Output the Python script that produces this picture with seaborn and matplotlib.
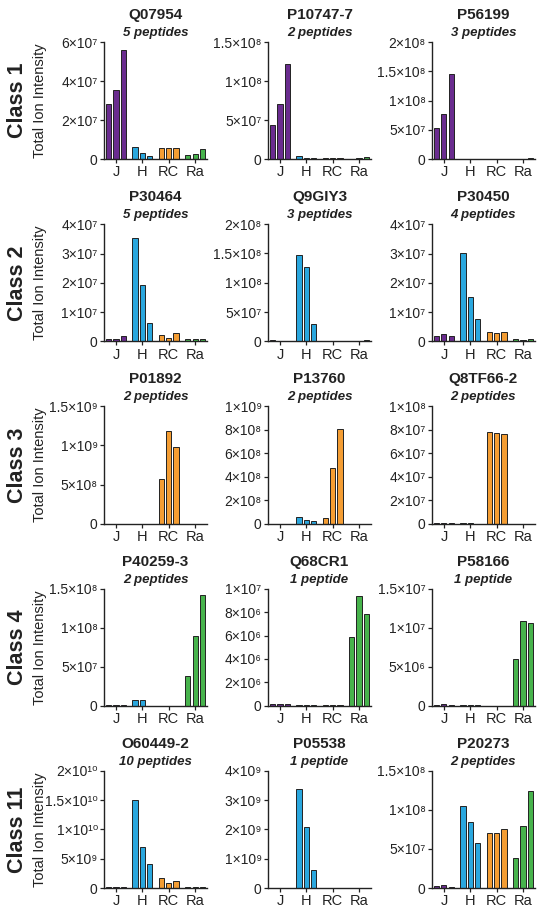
import matplotlib
matplotlib.use('Agg')
import matplotlib.pyplot as plt
import numpy as np
import pandas as pd
import seaborn as sns

# Sample groups and their colours
GROUPS = ['J', 'H', 'RC', 'Ra']
GROUP_COLORS = {'J': '#6a2c8f', 'H': '#2aa7de', 'RC': '#f49d33', 'Ra': '#47b34c'}

CLASSES = ['Class 1', 'Class 2', 'Class 3', 'Class 4', 'Class 11']

PROTEINS = ['Q07954', 'P10747-7', 'P56199',
            'P30464', 'Q9GIY3', 'P30450',
            'P01892', 'P13760', 'Q8TF66-2',
            'P40259-3', 'Q68CR1', 'P58166',
            'O60449-2', 'P05538', 'P20273']

PEPTIDES = ['5 peptides', '2 peptides', '3 peptides',
            '5 peptides', '3 peptides', '4 peptides',
            '2 peptides', '2 peptides', '2 peptides',
            '2 peptides', '1 peptide', '1 peptide',
            '10 peptides', '1 peptide', '2 peptides']

Y_TICKS = [[0, 2e7, 4e7, 6e7], [0, 5e7, 1e8, 1.5e8], [0, 5e7, 1e8, 1.5e8, 2e8],
           [0, 1e7, 2e7, 3e7, 4e7], [0, 5e7, 1e8, 1.5e8, 2e8], [0, 1e7, 2e7, 3e7, 4e7],
           [0, 5e8, 1e9, 1.5e9], [0, 2e8, 4e8, 6e8, 8e8, 1e9], [0, 2e7, 4e7, 6e7, 8e7, 1e8],
           [0, 5e7, 1e8, 1.5e8], [0, 2e6, 4e6, 6e6, 8e6, 1e7], [0, 5e6, 1e7, 1.5e7],
           [0, 5e9, 1e10, 1.5e10, 2e10], [0, 1e9, 2e9, 3e9, 4e9], [0, 5e7, 1e8, 1.5e8]]

# Total ion intensity, three replicates per group (J, H, RC, Ra)
Q07954 = [2.83e7, 3.52e7, 5.6e7, 6.3e6, 3.1e6, 1.7e6, 5.5e6, 5.8e6, 5.5e6, 2.0e6, 2.4e6, 5.1e6]
P10747_7 = [4.4e7, 7.0e7, 1.22e8, 3.5e6, 1e6, 1e6, 1e6, 1e6, 1.5e6, 0.5e6, 1e6, 3e6]
P56199 = [5.3e7, 7.7e7, 1.46e8, 0.5e6, 0.5e6, 0.5e6, 0.5e6, 0.5e6, 0.5e6, 0.5e6, 1e6, 2e6]
P30464 = [8e5, 7e5, 1.7e6, 3.52e7, 1.92e7, 6.3e6, 2.2e6, 1.3e6, 3.0e6, 9e5, 7e5, 7e5]
Q9GIY3 = [2e6, 1e6, 0.5e6, 1.47e8, 1.27e8, 3.0e7, 1e6, 0.5e6, 0.5e6, 0.5e6, 1e6, 3e6]
P30450 = [1.7e6, 2.5e6, 1.8e6, 3.03e7, 1.52e7, 7.7e6, 3.2e6, 2.7e6, 3.1e6, 7e5, 5e5, 7e5]
P01892 = [0, 0, 0, 0, 0, 0, 5.7e8, 1.19e9, 9.8e8, 0, 0, 0]
P13760 = [0, 0, 0, 5.2e7, 3.2e7, 2.6e7, 4.9e7, 4.75e8, 8.1e8, 0, 0, 0]
Q8TF66_2 = [9e5, 6e5, 8e5, 3e5, 2e5, 0, 7.78e7, 7.7e7, 7.64e7, 0, 0, 0]
P40259_3 = [1e6, 1.5e6, 1.5e6, 7.6e6, 7.6e6, 3e5, 0, 0, 0, 3.85e7, 9.0e7, 1.42e8]
Q68CR1 = [1.7e5, 1.7e5, 1.7e5, 5e4, 5e4, 5e4, 3e4, 3e4, 3e4, 5.85e6, 9.35e6, 7.8e6]
P58166 = [1.5e5, 2e5, 1.5e5, 5e4, 1.5e5, 5e4, 0, 0, 0, 6.0e6, 1.08e7, 1.06e7]
O60449_2 = [1e8, 1e8, 1e8, 1.5e10, 7.0e9, 4.1e9, 1.7e9, 8.5e8, 1.2e9, 2e8, 1e8, 2e8]
P05538 = [0, 0, 0, 3.39e9, 2.07e9, 6.1e8, 0, 0, 0, 0, 0, 0]
P20273 = [2.5e6, 3.8e6, 1e6, 1.05e8, 8.4e7, 5.8e7, 7.0e7, 7.1e7, 7.5e7, 3.8e7, 7.9e7, 1.24e8]

VALUES = [Q07954, P10747_7, P56199, P30464, Q9GIY3, P30450,
          P01892, P13760, Q8TF66_2, P40259_3, Q68CR1, P58166,
          O60449_2, P05538, P20273]

GROUP_STEP = 3.6
SUP = str.maketrans('0123456789', '⁰¹²³⁴⁵⁶⁷⁸⁹')


def sci_label(v):
    """Format a tick value as e.g. 1.5×10⁸."""
    if v == 0:
        return '0'
    exp = int(np.floor(np.log10(v) + 1e-9))
    mant = round(v / 10 ** exp, 2)
    return f'{mant:g}×10' + str(exp).translate(SUP)


def panel_frame(values):
    rows = []
    for g, grp in enumerate(GROUPS):
        for r in range(3):
            rows.append({'pos': g * GROUP_STEP + (r - 1), 'value': values[g * 3 + r], 'group': grp})
    return pd.DataFrame(rows)


sns.set_style('ticks')
plt.rcParams['font.family'] = ['Liberation Sans', 'DejaVu Sans']

fig, axes = plt.subplots(5, 3, figsize=(5.46, 9.14), dpi=100)
fig.subplots_adjust(left=104 / 546, right=535 / 546, top=1 - 42 / 914,
                    bottom=1 - 888 / 914, wspace=0.59, hspace=0.556)

ink = '#222222'
for i, ax in enumerate(axes.flat):
    df = panel_frame(VALUES[i])
    sns.barplot(data=df, x='pos', y='value', hue='group', palette=GROUP_COLORS,
                native_scale=True, width=0.7, dodge=False, errorbar=None, saturation=1,
                edgecolor=ink, linewidth=0.7, legend=False, ax=ax)
    ticks = Y_TICKS[i]
    ax.set_ylim(0, ticks[-1])
    ax.set_yticks(ticks)
    ax.set_yticklabels([sci_label(t) for t in ticks])
    ax.set_xlim(-1.64, 3 * GROUP_STEP + 1.64)
    ax.set_xticks([g * GROUP_STEP for g in range(4)])
    ax.set_xticklabels(GROUPS)
    ax.set_xlabel('')
    ax.set_ylabel('')
    sns.despine(ax=ax)
    for side in ['left', 'bottom']:
        ax.spines[side].set_linewidth(1.0)
        ax.spines[side].set_color(ink)
    ax.tick_params(axis='y', length=3, width=0.9, pad=1.5, labelsize=10, colors=ink)
    ax.tick_params(axis='x', length=3, width=0.9, pad=1.5, labelsize=10.5, colors=ink)
    ax.annotate(PROTEINS[i], xy=(0.5, 1), xycoords='axes fraction', xytext=(0, 19.5),
                textcoords='offset points', ha='center', va='center',
                fontsize=11, fontweight='bold', color=ink)
    ax.annotate(PEPTIDES[i], xy=(0.5, 1), xycoords='axes fraction', xytext=(0, 6.5),
                textcoords='offset points', ha='center', va='center',
                fontsize=9.5, fontweight='bold', fontstyle='italic', color=ink)

# Row labels on the left
for r, ax in enumerate(axes[:, 0]):
    box = ax.get_position()
    yc = (box.y0 + box.y1) / 2
    fig.text(17.5 / 546, yc, CLASSES[r], rotation=90, ha='center', va='center',
             fontsize=15.5, fontweight='bold', color=ink)
    fig.text(40 / 546, yc, 'Total Ion Intensity', rotation=90, ha='center', va='center',
             fontsize=10.5, color=ink)

fig.savefig('out.png', dpi=100)
